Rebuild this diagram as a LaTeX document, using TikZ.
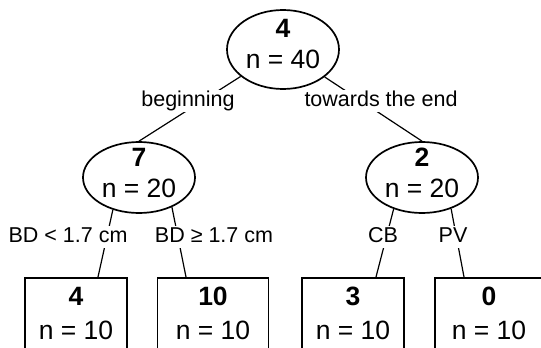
\documentclass[tikz,border=0pt]{standalone}
\usepackage{fontspec}
\setmainfont{Liberation Sans}
\usetikzlibrary{shapes.geometric}
\newcommand\nodefont{\fontsize{26.5}{31}\selectfont}
\newcommand\lblfont{\fontsize{21.5}{25}\selectfont}
\begin{document}
\begin{tikzpicture}[x=1pt,y=-1pt,
  split/.style={ellipse, draw, line width=1.7pt, fill=white, minimum width=112pt, inner sep=0pt},
  leaf/.style={draw, line width=1.7pt, anchor=north, minimum height=90pt},
  edge/.style={line width=1.2pt},
  lbl/.style={font=\lblfont, fill=white, inner xsep=1pt, inner ysep=1pt, text height=15.5pt, text depth=4.5pt},
  num/.style={font=\nodefont\bfseries, anchor=base, inner sep=0pt},
  cnt/.style={font=\nodefont, anchor=base, inner sep=0pt}]
\clip (0,0) rectangle (541,348);
% inner nodes
\node[split, minimum height=79pt] (root) at (283,49.5) {};
\node[split, minimum height=71pt] (early) at (139,177.5) {};
\node[split, minimum height=71pt] (late) at (422,177.5) {};
\node[num] (root-k) at (283,37.5) {4};
\node[cnt] (root-n) at (283,68.5) {n = 40};
\node[num] (early-k) at (139,166.5) {7};
\node[cnt] (early-n) at (139,197) {n = 20};
\node[num] (late-k) at (422,166.5) {2};
\node[cnt] (late-n) at (422,197) {n = 20};
% terminal nodes
\foreach \nm/\x/\w/\k in {bdlow/76/102/4, bdhigh/213/111/10, cb/353/102/3, pv/489/108/0}{
  \node[leaf, minimum width=\w pt] (\nm) at (\x,277) {};
  \node[num] (\nm-k) at (\x,305.5) {\k};
  \node[cnt] (\nm-n) at (\x,339.5) {n = 10};
}
% edges
\draw[edge] (root) -- (early.north);
\draw[edge] (root) -- (late.north);
\draw[edge] (early.231) -- ([xshift=22pt]bdlow.north);
\draw[edge] (early.318) -- ([xshift=-27pt]bdhigh.north);
\draw[edge] (late.228) -- ([xshift=23pt]cb.north);
\draw[edge] (late.313) -- ([xshift=-25pt]pv.north);
% edge labels
\node[lbl] (begin) at (188,100.5) {beginning};
\node[lbl] (end) at (381,100.5) {towards the end};
\node[lbl] (bdlow-l) at (68,236.5) {BD < 1.7 cm};
\node[lbl] (bdhigh-l) at (214,236.5) {BD ≥ 1.7 cm};
\node[lbl] (cb-l) at (383,236.5) {CB};
\node[lbl] (pv-l) at (453,236.5) {PV};
\end{tikzpicture}
\end{document}
